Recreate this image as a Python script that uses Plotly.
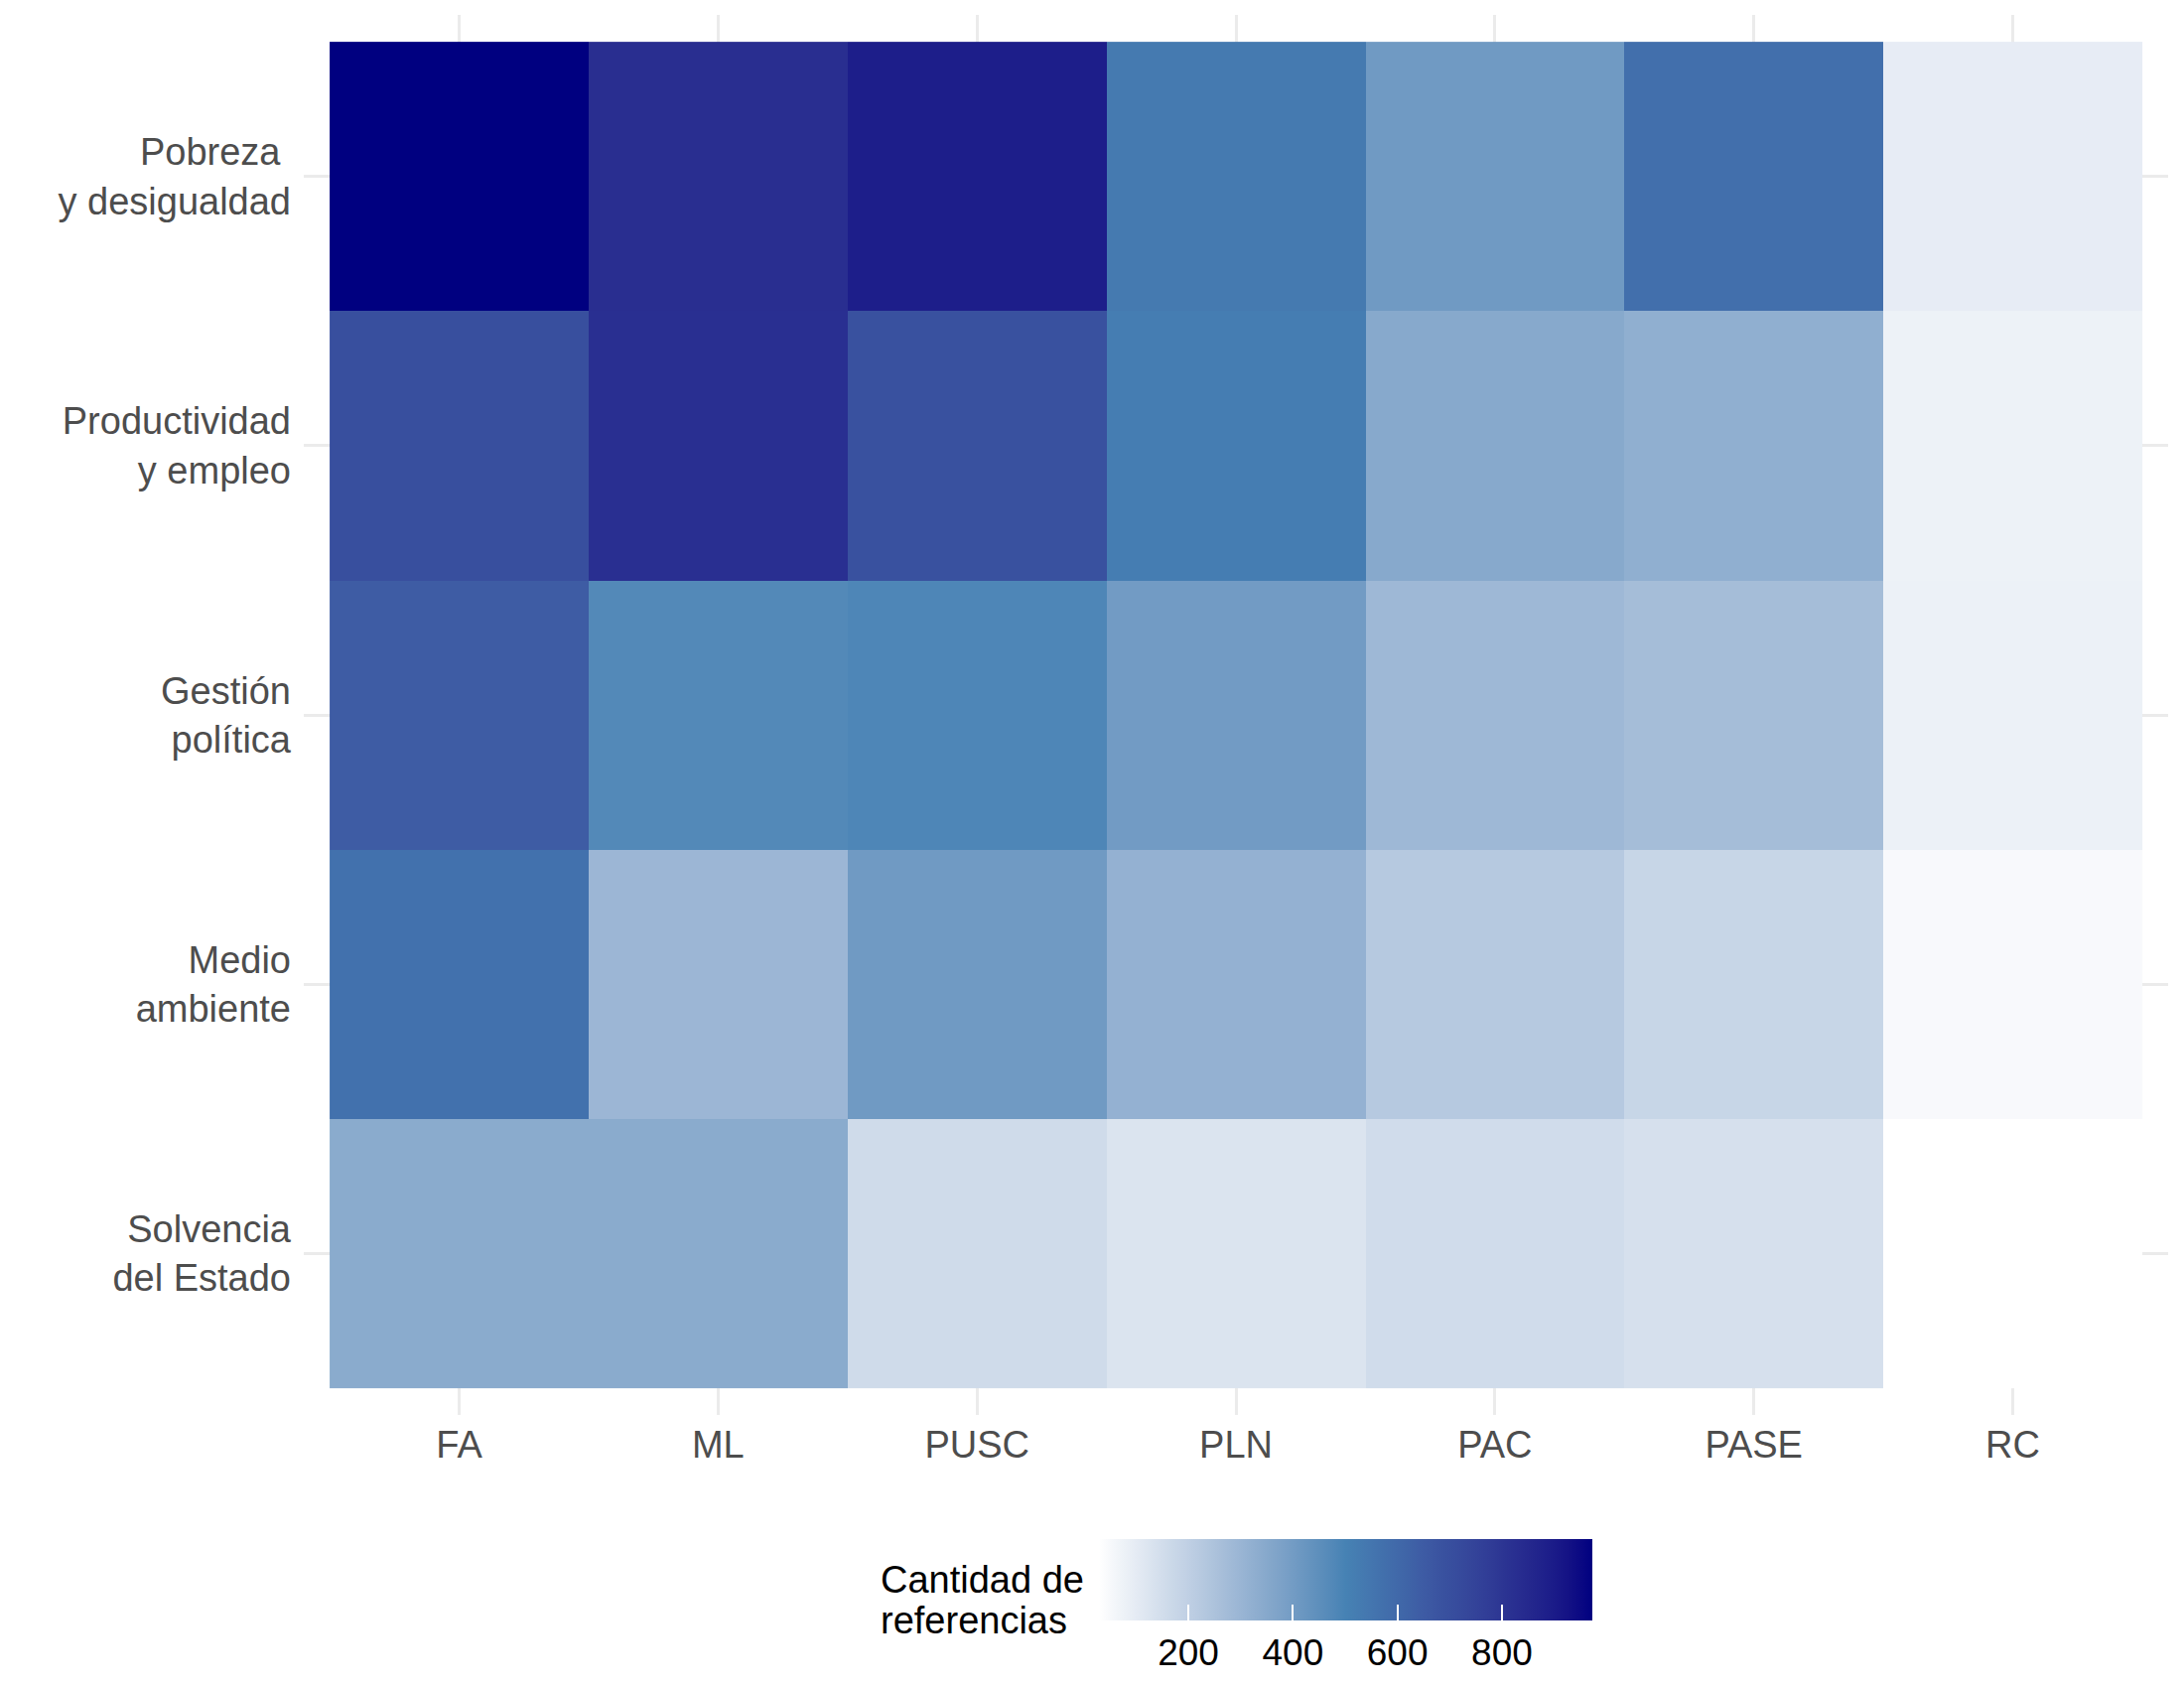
import plotly.graph_objects as go

# ---------------- data ----------------
partidos = ["FA", "ML", "PUSC", "PLN", "PAC", "PASE", "RC"]
temas = ["Pobreza\u00a0<br>y desigualdad", "Productividad<br>y empleo", "Gestión<br>política",
         "Medio<br>ambiente", "Solvencia<br>del Estado"]

pobreza = [973, 827, 890, 533, 406, 574, 95]
productividad = [698, 825, 690, 520, 348, 325, 76]
gestion = [648, 475, 486, 401, 288, 270, 78]
medio_ambiente = [566, 295, 406, 315, 225, 179, 48]
solvencia = [340, 340, 158, 127, 155, 139, 29]

colorbar_ticks = [200, 400, 600, 800]
colorbar_title = ["Cantidad de", "referencias"]

z = [pobreza, productividad, gestion, medio_ambiente, solvencia]
VMIN = min(min(r) for r in z)
VMAX = max(max(r) for r in z)


# ------------- colour scale: white -> steelblue -> navy, interpolated in CIELAB -------------
def s2l(c):
    c = c / 255
    return c / 12.92 if c <= 0.04045 else ((c + 0.055) / 1.055) ** 2.4


def l2s(c):
    c = max(0.0, min(1.0, c))
    v = 12.92 * c if c <= 0.0031308 else 1.055 * c ** (1 / 2.4) - 0.055
    return int(round(v * 255))


def hex2lab(h):
    r, g, b = (s2l(int(h[i:i + 2], 16)) for i in (1, 3, 5))
    X = (0.4124564 * r + 0.3575761 * g + 0.1804375 * b) / 0.95047
    Y = 0.2126729 * r + 0.7151522 * g + 0.0721750 * b
    Z = (0.0193339 * r + 0.1191920 * g + 0.9503041 * b) / 1.08883
    f = lambda t: t ** (1 / 3) if t > 0.008856 else 7.787 * t + 16 / 116
    fx, fy, fz = f(X), f(Y), f(Z)
    return (116 * fy - 16, 500 * (fx - fy), 200 * (fy - fz))


def lab2hex(L, a, b):
    fy = (L + 16) / 116
    fx = fy + a / 500
    fz = fy - b / 200
    inv = lambda f: f ** 3 if f ** 3 > 0.008856 else (f - 16 / 116) / 7.787
    X, Y, Z = inv(fx) * 0.95047, inv(fy), inv(fz) * 1.08883
    r = 3.2404542 * X - 1.5371385 * Y - 0.4985314 * Z
    g = -0.9692660 * X + 1.8760108 * Y + 0.0415560 * Z
    bb = 0.0556434 * X - 0.2040259 * Y + 1.0572252 * Z
    return "#%02X%02X%02X" % (l2s(r), l2s(g), l2s(bb))


stops = [hex2lab(h) for h in ("#FFFFFF", "#4682B4", "#000080")]
colorscale = []
N = 40
for i in range(N + 1):
    t = i / N
    if t <= 0.5:
        u, p, q = t / 0.5, stops[0], stops[1]
    else:
        u, p, q = (t - 0.5) / 0.5, stops[1], stops[2]
    colorscale.append([t, lab2hex(*[p[k] + (q[k] - p[k]) * u for k in range(3)])])

# ------------- figure -------------
PANEL_TOP, PANEL_BOTTOM, PANEL_LEFT, PANEL_RIGHT = 15, 1425, 306, 2184
PH = PANEL_BOTTOM - PANEL_TOP
PW = PANEL_RIGHT - PANEL_LEFT


def py(px):
    return (PANEL_BOTTOM - px) / PH


def pxr(px):
    return (px - PANEL_LEFT) / PW


FONT = "Liberation Sans, Arial, sans-serif"

fig = go.Figure(go.Heatmap(
    z=z, x=list(range(len(partidos))), y=list(range(len(temas))),
    colorscale=colorscale, zmin=VMIN, zmax=VMAX,
    xgap=0, ygap=0,
    colorbar=dict(
        orientation="h", x=pxr(1355.5), xanchor="center", y=py(1550), yanchor="top",
        len=497, lenmode="pixels", thickness=82, thicknessmode="pixels",
        xpad=0, ypad=0, outlinewidth=0,
        tickvals=colorbar_ticks, ticks="inside", tickcolor="white",
        ticklen=16, tickwidth=2,
        tickfont=dict(family=FONT, size=37, color="#000000"),
    ),
))

fig.update_layout(
    width=2200, height=1700,
    margin=dict(l=PANEL_LEFT, r=2200 - PANEL_RIGHT, t=PANEL_TOP, b=1700 - PANEL_BOTTOM,
                autoexpand=False),
    paper_bgcolor="white", plot_bgcolor="white",
    font=dict(family=FONT),
    xaxis=dict(
        range=[-0.6, len(partidos) - 0.4], tickmode="array",
        tickvals=list(range(len(partidos))), ticktext=partidos,
        showgrid=True, gridcolor="#EBEBEB", gridwidth=2.5, zeroline=False, showline=False,
        ticks="", tickfont=dict(size=38, color="#4D4D4D"), ticklabelstandoff=4,
    ),
    yaxis=dict(
        range=[len(temas) - 0.4, -0.6], tickmode="array",
        tickvals=list(range(len(temas))), ticktext=temas,
        showgrid=True, gridcolor="#EBEBEB", gridwidth=2.5, zeroline=False, showline=False,
        ticks="", tickfont=dict(size=38, color="#4D4D4D"), ticklabelstandoff=12,
    ),
    annotations=[
        dict(text=colorbar_title[0], xref="paper", yref="paper",
             x=pxr(885), y=py(1591), xanchor="left", yanchor="middle",
             showarrow=False, font=dict(size=38, color="#000000")),
        dict(text=colorbar_title[1], xref="paper", yref="paper",
             x=pxr(885), y=py(1632), xanchor="left", yanchor="middle",
             showarrow=False, font=dict(size=38, color="#000000")),
    ],
)

fig.write_html("out.html")
